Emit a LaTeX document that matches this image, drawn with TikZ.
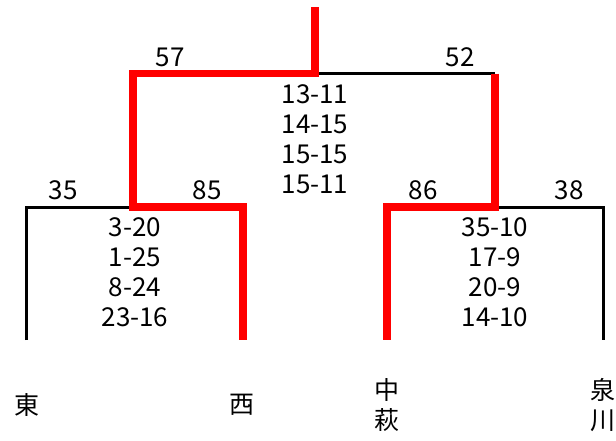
\documentclass[tikz,border=0pt]{standalone}
\usepackage{fontspec}
\setmainfont{Noto Sans CJK JP}
\begin{document}
\begin{tikzpicture}[x=1pt,y=-1pt,
  loser/.style={draw=black,line width=3pt,line join=miter},
  winner/.style={draw=red,line width=7.5pt,line join=miter},
  lbl/.style={font=\fontsize{26}{26}\selectfont,inner sep=0pt},
  score/.style={font=\fontsize{26}{30}\selectfont,align=center,inner sep=0pt},
  team/.style={font=\fontsize{25}{30}\selectfont,align=center,inner sep=0pt}]
\useasboundingbox (0,0) rectangle (616,440);
\coordinate (top) at (315,7);
\coordinate (F) at (315,73.5);
\coordinate (SL) at (133,73.5);
\coordinate (SR) at (495,73.5);
\coordinate (L) at (133,207);
\coordinate (R) at (495,207);
\coordinate (A) at (26,207);
\coordinate (B) at (243,207);
\coordinate (C) at (387,207);
\coordinate (D) at (603,207);
\coordinate (Ab) at (26,340);
\coordinate (Bb) at (243,340);
\coordinate (Cb) at (387,340);
\coordinate (Db) at (603,340);
% black lines
\draw[loser] (F) -- (SR);
\draw[loser] (Ab) -- (A) -- (L);
\draw[loser] (R) -- (D) -- (Db);
% red lines
\draw[winner] (top) -- (F) -- (SL) -- (L) -- (B) -- (Bb);
\draw[winner] (SR) -- (R) -- (C) -- (Cb);
% scores
\node[lbl] (n57) at (170,57.5) {57};
\node[lbl] (n52) at (460,57.5) {52};
\node[lbl] (n35) at (63,190) {35};
\node[lbl] (n85) at (207,190) {85};
\node[lbl] (n86) at (423,190) {86};
\node[lbl] (n38) at (569,190) {38};
\node[score,anchor=north] (sF) at (315,84.5) {13-11\\14-15\\15-15\\15-11};
\node[score,anchor=north] (sL) at (135,217.5) {3-20\\1-25\\8-24\\23-16};
\node[score,anchor=north] (sR) at (495,217.5) {35-10\\17-9\\20-9\\14-10};
% teams
\node[team] (t1) at (27,405) {東};
\node[team] (t2) at (242,405) {西};
\node[team] (t3) at (387,405) {中\\萩};
\node[team] (t4) at (603,405) {泉\\川};
\end{tikzpicture}
\end{document}
